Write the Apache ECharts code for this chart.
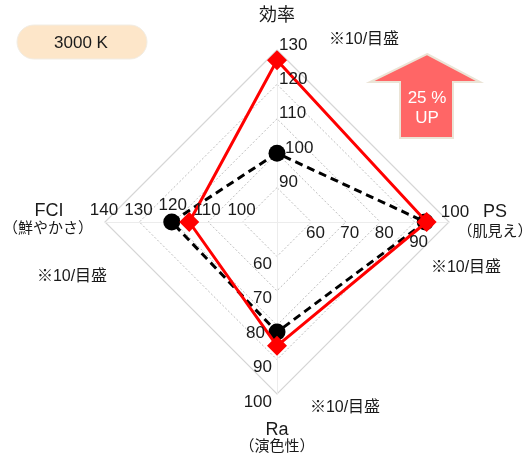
<!DOCTYPE html>
<html>
<head>
<meta charset="UTF-8">
<title>レーダーチャート</title>
<script type="text/javascript" src="https://cdn.jsdelivr.net/npm/echarts@6/dist/echarts.min.js"></script>
<style>
	html, body { margin: 0; padding: 0; background: #fff; }
	#main { width: 532px; height: 459px; }
</style>
</head>
<body>
	<div id="main"></div>

<script type="text/javascript">
	// 軸（上 → 左 → 下 → 右、反時計回り）
	var axisNames = ['効率', 'FCI', 'Ra', 'PS'];
	var axisSubNames = ['', '（鮮やかさ）', '（演色性）', '（肌見え）'];
	var axisMin = [80, 90, 50, 50];
	var axisMax = [130, 140, 100, 100];

	// 目盛ラベル
	var topTicks = [90, 100, 110, 120, 130];
	var leftTicks = [100, 110, 120, 130, 140];
	var bottomTicks = [60, 70, 80, 90, 100];
	var rightTicks = [60, 70, 80, 90, 100];

	// データ
	var redValues = [127, 115.5, 86, 93.5];
	var blackValues = [100, 120.6, 82, 93.1];

	var cx = 277, cy = 222, R = 172;
	var font = '"Liberation Sans", "Noto Sans CJK JP", sans-serif';

	var chart = echarts.init(document.getElementById('main'));

	var indicators = [];
	for (var i = 0; i < axisNames.length; i++) {
		indicators.push({ name: axisNames[i], min: axisMin[i], max: axisMax[i] });
	}

	// 軸上の値 → 画面座標
	function axisPoint(idx, v) {
		var a = Math.PI / 2 + idx * Math.PI / 2;
		var r = (v - axisMin[idx]) / (axisMax[idx] - axisMin[idx]) * R;
		return [cx + r * Math.cos(a), cy - r * Math.sin(a)];
	}

	function txt(x, y, s, size, align, color) {
		return {
			type: 'text', x: x, y: y, z: 100,
			style: {
				text: s, fill: color || '#1a1a1a', font: size + 'px ' + font,
				textAlign: align || 'center', textVerticalAlign: 'middle'
			}
		};
	}

	var graphics = [];

	// 3000 K
	graphics.push({
		type: 'rect', shape: { x: 17, y: 25, width: 130, height: 34, r: 17 },
		style: { fill: '#fde6c9', stroke: '#f1ece3', lineWidth: 1 }
	});
	graphics.push(txt(81, 43, '3000 K', 17));

	// 矢印
	graphics.push({
		type: 'polygon',
		shape: { points: [[427, 54], [480, 82], [453, 82], [453, 138], [400, 138], [400, 82], [370, 82]] },
		style: { fill: '#ff6666', stroke: '#ebe4d6', lineWidth: 2 }
	});
	graphics.push(txt(427, 98, '25 %', 17, 'center', '#fff'));
	graphics.push(txt(427, 118, 'UP', 17, 'center', '#fff'));

	// 目盛ラベル
	topTicks.forEach(function (v) {
		var p = axisPoint(0, v);
		graphics.push(txt(cx + 2 + (v === 100 ? 6 : 0), p[1] - 5, String(v), 17, 'left'));
	});
	leftTicks.forEach(function (v) {
		var p = axisPoint(1, v);
		graphics.push(txt(p[0] - 1, cy - 12 - (v === 120 ? 5 : 0), String(v), 17, 'center'));
	});
	bottomTicks.forEach(function (v) {
		var p = axisPoint(2, v);
		graphics.push(txt(cx - 5 - (v === 80 ? 7 : 0), p[1] + 8, String(v), 17, 'right'));
	});
	rightTicks.forEach(function (v) {
		var p = axisPoint(3, v);
		if (v === 100) graphics.push(txt(p[0] + 6, cy - 10, String(v), 17, 'center'));
		else if (v === 90) graphics.push(txt(p[0] + 4, cy + 20, String(v), 17, 'center'));
		else graphics.push(txt(p[0] + 4, cy + 11, String(v), 17, 'center'));
	});

	// 軸名
	graphics.push(txt(cx, 16, axisNames[0], 18));
	graphics.push(txt(49, 211, axisNames[1], 18));
	graphics.push(txt(48, 229, axisSubNames[1], 15));
	graphics.push(txt(cx, 430, axisNames[2], 18));
	graphics.push(txt(cx, 447, axisSubNames[2], 15));
	graphics.push(txt(495, 212, axisNames[3], 18));
	graphics.push(txt(495, 232, axisSubNames[3], 15));

	// ※10/目盛
	graphics.push(txt(364, 40, '※10/目盛', 16));
	graphics.push(txt(466, 268, '※10/目盛', 16));
	graphics.push(txt(345, 408, '※10/目盛', 16));
	graphics.push(txt(72, 277, '※10/目盛', 16));

	var option = {
		animation: false,
		radar: [{
			center: [cx, cy],
			radius: R,
			startAngle: 90,
			shape: 'polygon',
			splitNumber: 5,
			indicator: indicators,
			axisName: { show: false },
			axisLabel: { show: false },
			axisTick: { show: false },
			axisLine: { lineStyle: { color: '#ececec', width: 1 } },
			splitLine: { lineStyle: { color: '#bdbdbd', width: 1, type: [2, 2] } },
			splitArea: { show: false }
		}, {
			center: [cx, cy],
			radius: R,
			startAngle: 90,
			shape: 'polygon',
			splitNumber: 1,
			indicator: indicators,
			axisName: { show: false },
			axisLabel: { show: false },
			axisTick: { show: false },
			axisLine: { show: false },
			splitLine: { lineStyle: { color: '#d6d6d6', width: 1.2 } },
			splitArea: { show: false }
		}],
		series: [{
			type: 'radar',
			radarIndex: 0,
			z: 3,
			data: [{
				value: blackValues,
				symbol: 'circle',
				symbolSize: 17,
				itemStyle: { color: '#000' },
				lineStyle: { color: '#000', width: 3, type: [8, 5] }
			}]
		}, {
			type: 'radar',
			radarIndex: 0,
			z: 4,
			data: [{
				value: redValues,
				symbol: 'diamond',
				symbolSize: 20,
				itemStyle: { color: '#ff0000' },
				lineStyle: { color: '#ff0000', width: 3 }
			}]
		}],
		graphic: graphics
	};

	chart.setOption(option);
</script>
</body>
</html>
